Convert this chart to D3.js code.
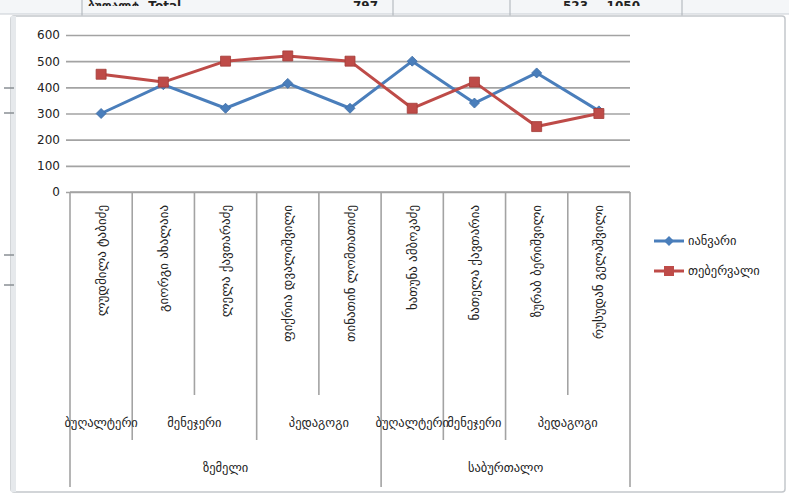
<!DOCTYPE html>
<html>
<head>
<meta charset="utf-8">
<script src="https://cdn.jsdelivr.net/npm/d3@7"></script>
<style>
  html, body { margin: 0; padding: 0; background: #ffffff; }
  svg { display: block; }
  text { font-family: "DejaVu Sans", sans-serif; fill: #222; }
</style>
</head>
<body>
<script>
// ---- data ----
const names = [
  "ლუდმილა ტაბიძე",
  "გიორგი ახალაია",
  "ლელა ქავთარაძე",
  "ფიქრია დვალიშვილი",
  "თინათინ ლომთათიძე",
  "ხათუნა ამბოკაძე",
  "ნათელა ქავთარია",
  "ზურაბ ბერიშვილი",
  "რუსუდან გელაშვილი"
];
const roles = ["ბუღალტერი","მენეჯერი","მენეჯერი","პედაგოგი","პედაგოგი","ბუღალტერი","მენეჯერი","პედაგოგი","პედაგოგი"];
const districts = ["ზემელი","ზემელი","ზემელი","ზემელი","ზემელი","საბურთალო","საბურთალო","საბურთალო","საბურთალო"];
const january  = [300, 410, 320, 415, 320, 500, 340, 455, 310];
const february = [450, 420, 500, 520, 500, 320, 420, 250, 300];
const seriesNames = ["იანვარი", "თებერვალი"];
const yTicks = [0, 100, 200, 300, 400, 500, 600];

// ---- layout ----
const W = 789, H = 498;
const plot = { left: 70, right: 630, top: 35, bottom: 192 };
const leafBottom = 395, roleBottom = 440, distBottom = 487;
const roleLabelY = 423, distLabelY = 468;
const grid = "#a3a3a3";
const colors = ["#4a7ebb", "#be4b48"];

const svg = d3.select("body").append("svg").attr("width", W).attr("height", H);

// Excel-like surroundings
const strip = svg.append("g");
strip.append("rect").attr("x", 0).attr("y", 0).attr("width", W).attr("height", 14).attr("fill", "#f4f6f8");
strip.append("line").attr("x1", 0).attr("x2", W).attr("y1", 14).attr("y2", 14).attr("stroke", "#c9ced4");
[82, 393, 510, 682].forEach(xx => strip.append("line").attr("x1", xx).attr("x2", xx).attr("y1", 0).attr("y2", 16).attr("stroke", "#aab0b6"));
const clip = svg.append("defs").append("clipPath").attr("id", "topclip");
clip.append("rect").attr("x", 0).attr("y", 0).attr("width", W).attr("height", 6);
const topTxt = svg.append("g").attr("clip-path", "url(#topclip)");
[["ბუღალტ. Total", 88], ["797", 378], ["523", 588], ["1050", 640]].forEach(([t, xx], i) =>
  topTxt.append("text").attr("x", xx).attr("y", 10).attr("font-size", 12).attr("font-weight", "bold")
    .attr("fill", "#333").attr("text-anchor", i === 0 ? "start" : "end").text(t));

// chart frame
svg.append("rect").attr("x", 11).attr("y", 16).attr("width", 774).attr("height", 476)
  .attr("fill", "#ffffff").attr("stroke", "#c4c8cc").attr("stroke-width", 1.5).attr("rx", 3);
svg.append("rect").attr("x", 11).attr("y", 16).attr("width", 5).attr("height", 476).attr("fill", "#e6e9ec");
[88, 113, 255, 285].forEach(yy => svg.append("line").attr("x1", 4).attr("x2", 14).attr("y1", yy).attr("y2", yy).attr("stroke", "#8a8f94").attr("stroke-width", 1.5));

// scales
const x = d3.scaleBand().domain(d3.range(names.length)).range([plot.left, plot.right]).padding(0);
const y = d3.scaleLinear().domain([0, 600]).range([plot.bottom, plot.top]);
const cx = i => x(i) + x.bandwidth() / 2;

// gridlines + y axis
const yAxis = d3.axisLeft(y).tickValues(yTicks).tickSize(-(plot.right - plot.left)).tickPadding(10);
const ya = svg.append("g").attr("transform", `translate(${plot.left},0)`).call(yAxis);
ya.select(".domain").remove();
ya.selectAll(".tick line").attr("stroke", grid).attr("stroke-width", 1.6).attr("x1", -4);
ya.selectAll(".tick text").attr("font-size", 12).attr("fill", "#333").attr("font-family", "DejaVu Sans, sans-serif");

// category axis baseline
svg.append("line").attr("x1", plot.left).attr("x2", plot.right).attr("y1", plot.bottom).attr("y2", plot.bottom)
  .attr("stroke", grid).attr("stroke-width", 1.6);

// runs of consecutive equal values
function runs(arr) {
  const out = [];
  arr.forEach((v, i) => {
    if (out.length && out[out.length - 1].v === v && (arr === roles ? districts[i] === districts[i - 1] : true))
      out[out.length - 1].end = i;
    else out.push({ v, start: i, end: i });
  });
  return out;
}
const roleRuns = runs(roles);
const distRuns = runs(districts);

// separators
const boundaries = d3.range(names.length + 1);
const sep = svg.append("g").attr("stroke", grid).attr("stroke-width", 1.6);
boundaries.forEach(b => {
  const xb = b < names.length ? x(b) : plot.right;
  let yb = leafBottom;
  if (roleRuns.some(r => r.start === b || r.end + 1 === b)) yb = roleBottom;
  if (distRuns.some(r => r.start === b || r.end + 1 === b)) yb = distBottom;
  sep.append("line").attr("x1", xb).attr("x2", xb).attr("y1", plot.bottom).attr("y2", yb);
});

// leaf labels (rotated)
svg.append("g").selectAll("text").data(names).join("text")
  .attr("transform", (d, i) => `translate(${cx(i)},${plot.bottom + 13}) rotate(-90)`)
  .attr("text-anchor", "end").attr("dy", "0.35em").attr("font-size", 13).text(d => d);

// role labels
svg.append("g").selectAll("text").data(roleRuns).join("text")
  .attr("x", r => (x(r.start) + x(r.end) + x.bandwidth()) / 2).attr("y", roleLabelY)
  .attr("text-anchor", "middle").attr("dy", "0.35em").attr("font-size", 12.5).text(r => r.v);

// district labels
svg.append("g").selectAll("text").data(distRuns).join("text")
  .attr("x", r => (x(r.start) + x(r.end) + x.bandwidth()) / 2).attr("y", distLabelY)
  .attr("text-anchor", "middle").attr("dy", "0.35em").attr("font-size", 12.5).text(r => r.v);

// series
const series = [january, february];
const line = d3.line().x((d, i) => cx(i)).y(d => y(d));
series.forEach((s, k) => {
  svg.append("path").datum(s).attr("d", line).attr("fill", "none")
    .attr("stroke", colors[k]).attr("stroke-width", 3).attr("stroke-linejoin", "round");
});
const sym = [d3.symbol().type(d3.symbolSquare).size(50), d3.symbol().type(d3.symbolSquare).size(100)];
const rot = [45, 0];
series.forEach((s, k) => {
  svg.append("g").selectAll("path").data(s).join("path")
    .attr("transform", (d, i) => `translate(${cx(i)},${y(d)}) rotate(${rot[k]})`)
    .attr("d", sym[k]()).attr("fill", colors[k]).attr("stroke", k === 1 ? "#a33c39" : "#3f6ea6").attr("stroke-width", 0.8);
});

// legend
const lg = svg.append("g");
seriesNames.forEach((n, k) => {
  const ly = 241 + k * 30;
  lg.append("line").attr("x1", 654).attr("x2", 684).attr("y1", ly).attr("y2", ly).attr("stroke", colors[k]).attr("stroke-width", 3);
  lg.append("path").attr("transform", `translate(669,${ly}) rotate(${rot[k]})`).attr("d", sym[k]()).attr("fill", colors[k]);
  lg.append("text").attr("x", 688).attr("y", ly).attr("dy", "0.35em").attr("font-size", 12.5).text(n);
});
</script>
</body>
</html>
